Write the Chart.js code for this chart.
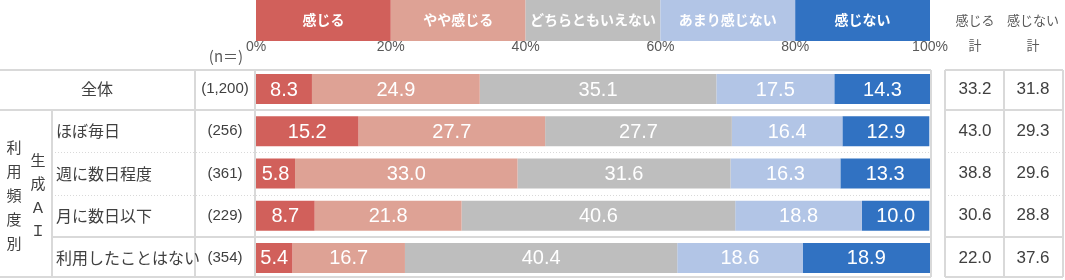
<!DOCTYPE html>
<html>
<head>
<meta charset="utf-8">
<script src="https://cdn.jsdelivr.net/npm/chart.js@4"></script>
<style>
  html, body { margin: 0; padding: 0; background: #fff; }
  canvas { display: block; }
</style>
</head>
<body>
<canvas id="chart" width="1065" height="280"></canvas>
<script>
const categories = ['全体', 'ほぼ毎日', '週に数日程度', '月に数日以下', '利用したことはない'];
const sampleSizes = ['(1,200)', '(256)', '(361)', '(229)', '(354)'];
const seriesNames = ['感じる', 'やや感じる', 'どちらともいえない', 'あまり感じない', '感じない'];
const seriesColors = ['#D1605B', '#DEA295', '#BEBEBE', '#B2C5E6', '#3172C2'];
const kanjiru = [8.3, 15.2, 5.8, 8.7, 5.4];
const yayaKanjiru = [24.9, 27.7, 33.0, 21.8, 16.7];
const dochiramo = [35.1, 27.7, 31.6, 40.6, 40.4];
const amari = [17.5, 16.4, 16.3, 18.8, 18.6];
const kanjinai = [14.3, 12.9, 13.3, 10.0, 18.9];
const kanjiruTotal = ['33.2', '43.0', '38.8', '30.6', '22.0'];
const kanjinaiTotal = ['31.8', '29.3', '29.6', '28.8', '37.6'];
const tickLabels = ['0%', '20%', '40%', '60%', '80%', '100%'];

const JP = '"Noto Sans CJK JP", "Noto Sans", sans-serif';
const NUM = '"Liberation Sans", Arial, sans-serif';
const LINE = '#D9D9D9';

const values = [kanjiru, yayaKanjiru, dochiramo, amari, kanjinai];

// 表・凡例・ラベルはプラグインで描く
const tablePlugin = {
  id: 'table',
  afterDraw(chart) {
    const ctx = chart.ctx;
    const xs = chart.scales.x;
    const ys = chart.scales.y;
    const centers = categories.map((c, i) => ys.getPixelForValue(i));
    const bound = (i) => Math.round((centers[i] + centers[i + 1]) / 2);
    const top = 70;
    const bottom = 277;
    const right = Math.round(xs.getPixelForValue(100)) + 1;

    ctx.save();

    // legend boxes
    seriesNames.forEach((name, i) => {
      const x0 = xs.getPixelForValue(i * 20);
      const x1 = xs.getPixelForValue((i + 1) * 20);
      ctx.fillStyle = seriesColors[i];
      ctx.fillRect(x0, 0, x1 - x0, 41);
      ctx.fillStyle = '#fff';
      ctx.font = 'bold 14px ' + JP;
      ctx.textAlign = 'center';
      ctx.textBaseline = 'middle';
      ctx.fillText(name, (x0 + x1) / 2, 20);
    });

    // tick labels
    ctx.fillStyle = '#595959';
    ctx.font = '14px ' + NUM;
    tickLabels.forEach((t, i) => {
      ctx.fillText(t, xs.getPixelForValue(i * 20), 47);
    });
    ctx.font = '15px ' + JP;
    ctx.fillText('(n＝)', 226, 56);

    ctx.font = '13px ' + JP;
    ctx.fillText('感じる', 975, 20);
    ctx.fillText('計', 975, 45);
    ctx.fillText('感じない', 1033, 20);
    ctx.fillText('計', 1033, 45);

    // grid lines
    ctx.strokeStyle = LINE;
    ctx.lineWidth = 2;
    const hline = (x0, x1, y) => {
      ctx.beginPath();
      ctx.moveTo(x0, y);
      ctx.lineTo(x1, y);
      ctx.stroke();
    };
    const vline = (x, y0, y1) => {
      ctx.beginPath();
      ctx.moveTo(x, y0);
      ctx.lineTo(x, y1);
      ctx.stroke();
    };
    hline(0, right, top);
    hline(0, right, bound(0));
    hline(52, right, bound(3));
    hline(0, right, bottom);
    vline(52, bound(0), bottom);
    vline(195, top, bottom);
    vline(255, top, bottom);
    vline(right, top, bottom);

    hline(945, 1063, top);
    hline(945, 1063, bound(0));
    hline(945, 1063, bound(3));
    hline(945, 1063, bottom);
    vline(945, top, bottom);
    vline(1004, top, bottom);
    vline(1063, top, bottom);

    ctx.lineWidth = 1;
    ctx.setLineDash([1, 2]);
    [1, 2].forEach((i) => {
      hline(52, right, bound(i) + 0.5);
      hline(945, 1063, bound(i) + 0.5);
    });
    ctx.setLineDash([]);

    // row labels
    ctx.fillStyle = '#404040';
    ctx.font = '16px ' + JP;
    categories.forEach((c, i) => {
      if (i === 0) {
        ctx.textAlign = 'center';
        ctx.fillText(c, 97, centers[i]);
      } else {
        ctx.textAlign = 'left';
        ctx.fillText(c, 56, centers[i]);
      }
      ctx.textAlign = 'center';
      ctx.font = '15px ' + NUM;
      ctx.fillText(sampleSizes[i], 225, centers[i]);
      ctx.font = '17px ' + NUM;
      ctx.fillText(kanjiruTotal[i], 975, centers[i]);
      ctx.fillText(kanjinaiTotal[i], 1033, centers[i]);
      ctx.font = '16px ' + JP;
    });

    // vertical group labels
    ctx.font = '15px ' + JP;
    ctx.textAlign = 'center';
    '利用頻度別'.split('').forEach((ch, i) => ctx.fillText(ch, 14, 147 + i * 24));
    ['生', '成', 'Ａ', 'Ｉ'].forEach((ch, i) => ctx.fillText(ch, 38, 160 + i * 23.5));

    ctx.restore();
  },
  afterDatasetsDraw(chart) {
    const ctx = chart.ctx;
    ctx.save();
    ctx.fillStyle = '#fff';
    ctx.font = '20px ' + NUM;
    ctx.textAlign = 'center';
    ctx.textBaseline = 'middle';
    chart.data.datasets.forEach((ds, di) => {
      chart.getDatasetMeta(di).data.forEach((bar, i) => {
        ctx.fillText(ds.data[i].toFixed(1), (bar.x + bar.base) / 2, bar.y + 1);
      });
    });
    ctx.restore();
  },
};

new Chart(document.getElementById('chart'), {
  type: 'bar',
  data: {
    labels: categories,
    datasets: seriesNames.map((name, i) => ({
      label: name,
      data: values[i],
      backgroundColor: seriesColors[i],
      borderWidth: 0,
      barPercentage: 0.71,
      categoryPercentage: 1,
    })),
  },
  options: {
    indexAxis: 'y',
    responsive: false,
    devicePixelRatio: 1,
    animation: false,
    layout: { padding: { left: 256, right: 135, top: 68, bottom: 1 } },
    plugins: { legend: { display: false }, tooltip: { enabled: false } },
    scales: {
      x: { stacked: true, min: 0, max: 100, display: false },
      y: { stacked: true, display: false },
    },
  },
  plugins: [tablePlugin],
});
</script>
</body>
</html>
